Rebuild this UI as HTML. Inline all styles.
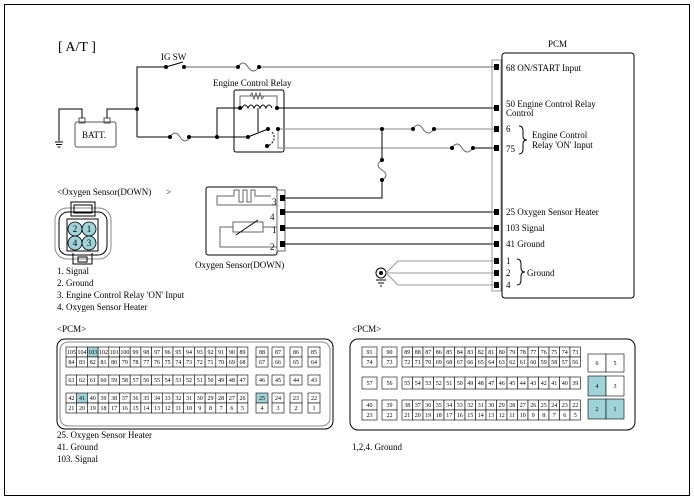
<!DOCTYPE html>
<html><head><meta charset="utf-8"><style>
body{margin:0;background:#fff}
svg{display:block}
text{font-family:"Liberation Serif",serif;font-size:9px;fill:#000}
</style></head><body>
<svg width="694" height="500" viewBox="0 0 694 500" xmlns="http://www.w3.org/2000/svg">
<rect x="4.5" y="4.5" width="685" height="491" fill="none" stroke="#000" stroke-width="1"/>
<text x="58" y="51" style="font-size:14px">[ A/T ]</text>
<text x="161" y="60">IG SW</text>
<text x="213" y="86">Engine Control Relay</text>
<text x="548" y="47">PCM</text>
<g fill="none" stroke="#000" stroke-width="1">
<polyline points="137,137 137,67 166,67"/>
<line x1="166" y1="67" x2="183" y2="62"/>
<line x1="184" y1="67" x2="238" y2="67" stroke="#666"/>
<path d="M238,67 q5,-8 10,0 q5,8 11,0" stroke="#666"/>
<line x1="259" y1="67" x2="497" y2="67" stroke="#666"/>
<rect x="75" y="122" width="41" height="25" rx="2" stroke="#555"/>
<rect x="79" y="118" width="6" height="5" stroke="#555"/>
<rect x="104" y="118" width="6" height="5" stroke="#555"/>
<polyline points="82,118 82,109 59,109 59,141"/>
<polyline points="107,118 107,109 137,109"/>
<line x1="55" y1="142" x2="63" y2="142"/><line x1="56" y1="144.5" x2="62" y2="144.5"/><line x1="57.5" y1="147" x2="60.5" y2="147"/>
<line x1="137" y1="137" x2="170" y2="137"/>
<path d="M170,137 q5,-8 10,0 q5,8 10,0" stroke="#666"/>
<line x1="189" y1="137" x2="248" y2="137"/>
<polyline points="217,137 217,108 240,108"/>
<rect x="234" y="90" width="50" height="62" rx="2"/>
<polyline points="240,108 240,96 277,96 277,108" stroke="#666"/>
<path d="M250,96 l2,-3 l2,6 l2,-6 l2,6 l2,-6 l2,6 l2,-3" stroke="#666"/>
<path d="M242,108 q3,-6 6,0 q3,-6 6,0 q3,-6 6,0 q3,-6 6,0 q3,-6 6,0" />
<line x1="258" y1="108" x2="258" y2="132"/>
<line x1="248" y1="137" x2="268" y2="129"/>
<path d="M272,132 q6,8 -4,14" stroke-dasharray="2,1.5"/>
<line x1="277" y1="108" x2="497" y2="108"/>
<line x1="278" y1="129" x2="413" y2="129" stroke="#888"/>
<polyline points="278,129 278,148 452,148" stroke="#888"/>
<path d="M413,129 q5,-8 10,0 q5,8 11,0" stroke="#666"/>
<line x1="434" y1="129" x2="497" y2="129" stroke="#888"/>
<path d="M452,148 q5,-8 10,0 q5,8 11,0" stroke="#666"/>
<line x1="473" y1="148" x2="497" y2="148"/>
<line x1="382" y1="129" x2="382" y2="160"/>
<path d="M382,160 q-8,5 0,10 q8,5 0,10" stroke="#666"/>
<polyline points="382,180 382,198 285,198"/>
<rect x="206" y="187" width="71" height="68" rx="2"/>
<rect x="277" y="190" width="8" height="61" stroke="#666"/>
<polyline points="217,205 217,196 234,196 234,190 239,190 239,202 243,202 243,190 247,190 247,202 251,202 251,190 255,190 255,196 271,196" stroke="#666"/>
<line x1="217" y1="205" x2="277" y2="205" stroke="#666"/>
<rect x="233" y="222" width="30" height="10" stroke="#666"/>
<line x1="236" y1="235" x2="258" y2="220"/>
<polyline points="263,227 277,227" stroke="#666"/>
<polyline points="233,227 220,227 220,247 277,247" stroke="#666"/>
<line x1="285" y1="212" x2="497" y2="212"/>
<line x1="285" y1="228" x2="497" y2="228"/>
<line x1="285" y1="244" x2="497" y2="244"/>
<circle cx="381" cy="273" r="5"/>
<line x1="386" y1="273" x2="497" y2="273" stroke="#999"/>
<line x1="386" y1="273" x2="398" y2="261" stroke="#999"/><line x1="398" y1="261" x2="497" y2="261" stroke="#999"/>
<line x1="386" y1="273" x2="398" y2="285" stroke="#999"/><line x1="398" y1="285" x2="497" y2="285" stroke="#999"/>
<line x1="376" y1="280" x2="386" y2="280"/><line x1="378" y1="283" x2="384" y2="283"/><line x1="380" y1="286" x2="382" y2="286"/>
<rect x="502" y="53" width="132" height="245" rx="3"/>
<rect x="492" y="60" width="9" height="231" stroke="#999"/>
<path d="M519,126 q4,0 4,5 v5 q0,4 4,4 q-4,0 -4,4 v5 q0,5 -4,5"/>
<path d="M517,259 q4,0 4,5 v4 q0,4 4,4 q-4,0 -4,4 v4 q0,5 -4,5"/>
<rect x="55" y="208" width="56" height="51" rx="12" stroke="#888"/>
<rect x="59" y="212" width="48" height="43" rx="9"/>
<rect x="67" y="219" width="31" height="32" fill="#fff"/>
<rect x="71" y="202" width="24" height="14"/>
<rect x="74" y="205" width="18" height="8"/>
<polyline points="73,253 73,264 92,264 92,253"/>
<rect x="78" y="257" width="9" height="5"/>
</g>
<g fill="#9fd3d8" stroke="#000" stroke-width="0.8">
<circle cx="75" cy="229" r="7"/><circle cx="89" cy="229" r="7"/><circle cx="75" cy="243" r="7"/><circle cx="89" cy="243" r="7"/>
</g>
<g style="font-size:8px" text-anchor="middle">
<text x="75" y="232">2</text><text x="89" y="232">1</text><text x="75" y="246">4</text><text x="89" y="246">3</text>
</g>
<g fill="#000">
<circle cx="166" cy="67" r="2"/><circle cx="184" cy="67" r="2"/><circle cx="238" cy="67" r="2"/><circle cx="259" cy="67" r="2"/>
<circle cx="137" cy="109" r="2"/><circle cx="170" cy="137" r="2"/><circle cx="189" cy="137" r="2"/><circle cx="217" cy="137" r="2"/>
<circle cx="240" cy="108" r="2"/><circle cx="277" cy="108" r="2"/><circle cx="248" cy="137" r="2"/><circle cx="268" cy="129" r="2"/><circle cx="278" cy="129" r="2"/><circle cx="267" cy="146" r="2"/>
<circle cx="382" cy="129" r="2"/><circle cx="413" cy="129" r="2"/><circle cx="434" cy="129" r="2"/><circle cx="452" cy="148" r="2"/><circle cx="473" cy="148" r="2"/>
<circle cx="382" cy="160" r="2"/><circle cx="382" cy="180" r="2"/>
<circle cx="381" cy="273" r="2"/>
<rect x="494" y="64" width="5" height="6"/><rect x="494" y="105" width="5" height="6"/><rect x="494" y="126" width="5" height="6"/><rect x="494" y="145" width="5" height="6"/>
<rect x="494" y="209" width="5" height="6"/><rect x="494" y="225" width="5" height="6"/><rect x="494" y="241" width="5" height="6"/>
<rect x="494" y="258" width="5" height="6"/><rect x="494" y="270" width="5" height="6"/><rect x="494" y="282" width="5" height="6"/>
<rect x="280" y="195" width="5" height="6"/><rect x="280" y="209" width="5" height="6"/><rect x="280" y="225" width="5" height="6"/><rect x="280" y="241" width="5" height="6"/>
</g>
<text x="82" y="138">BATT.</text>
<text x="272" y="205">3</text><text x="270" y="220">4</text><text x="272" y="233">1</text><text x="270" y="250">2</text>
<text x="506" y="71">68  ON/START Input</text>
<text x="506" y="107">50 Engine Control Relay</text><text x="506" y="116">Control</text>
<text x="506" y="132">6</text><text x="506" y="152">75</text>
<text x="532" y="138">Engine Control</text><text x="532" y="148">Relay 'ON' Input</text>
<text x="506" y="215">25 Oxygen Sensor Heater</text>
<text x="506" y="231">103 Signal</text>
<text x="506" y="247">41 Ground</text>
<text x="506" y="264">1</text><text x="506" y="276">2</text><text x="506" y="288">4</text>
<text x="527" y="276">Ground</text>
<text x="195" y="268">Oxygen Sensor(DOWN)</text>
<text x="57" y="195">&lt;Oxygen Sensor(DOWN)</text><text x="166" y="195">&gt;</text>
<text x="57" y="274">1. Signal</text>
<text x="57" y="286">2. Ground</text>
<text x="57" y="298">3.  Engine Control Relay 'ON' Input</text>
<text x="57" y="310">4. Oxygen Sensor Heater</text>
<text x="57" y="332">&lt;PCM&gt;</text>
<text x="352" y="332">&lt;PCM&gt;</text>
<text x="57" y="438">25. Oxygen Sensor Heater</text>
<text x="57" y="450">41. Ground</text>
<text x="57" y="462">103. Signal</text>
<text x="352" y="450">1,2,4. Ground</text>
</svg>
<script>
(function(){
var NS="http://www.w3.org/2000/svg",svg=document.querySelector('svg');
function R(x,y,w,h,fill,sw){var r=document.createElementNS(NS,'rect');r.setAttribute('x',x);r.setAttribute('y',y);r.setAttribute('width',w);r.setAttribute('height',h);r.setAttribute('fill',fill||'#fff');r.setAttribute('stroke','#000');r.setAttribute('stroke-width',sw||0.6);svg.appendChild(r);}
function T(x,y,s){var t=document.createElementNS(NS,'text');t.setAttribute('x',x);t.setAttribute('y',y);t.setAttribute('text-anchor','middle');t.setAttribute('style','font-size:6px');t.textContent=s;svg.appendChild(t);}
function cell(x,y,w,h,s,hl){R(x,y,w,h,hl?'#9fd3d8':'#fff');T(x+w/2,y+h/2+2,s);}
var b=document.createElementNS(NS,'rect');b.setAttribute('x',57);b.setAttribute('y',339);b.setAttribute('width',276);b.setAttribute('height',90);b.setAttribute('rx',8);b.setAttribute('fill','none');b.setAttribute('stroke','#000');svg.appendChild(b);
var b2=b.cloneNode();b2.setAttribute('x',60);b2.setAttribute('y',342);b2.setAttribute('width',270);b2.setAttribute('height',84);b2.setAttribute('stroke','#888');svg.appendChild(b2);
var w=10.7,i;
for(i=0;i<17;i++){cell(66+i*w,347,w,10,105-i,105-i==103);cell(66+i*w,357,w,10,84-i);}
for(i=0;i<17;i++){cell(66+i*w,375,w,10,63-i);}
for(i=0;i<17;i++){cell(66+i*w,393,w,10,42-i,42-i==41);cell(66+i*w,403,w,10,21-i);}
var cx=[256,272,290,308];
for(i=0;i<4;i++){cell(cx[i],347,12,10,88-i);cell(cx[i],357,12,10,67-i);cell(cx[i],375,12,10,46-i);cell(cx[i],393,12,10,25-i,i==0);cell(cx[i],403,12,10,4-i);}
var c=b.cloneNode();c.setAttribute('x',350);c.setAttribute('y',339);c.setAttribute('width',285);c.setAttribute('height',91);svg.appendChild(c);
cell(362,347,15,10,91);cell(362,357,15,10,74);cell(382,347,15,10,90);cell(382,357,15,10,73);
cell(362,377,15,12,57);cell(382,377,15,12,56);
cell(362,400,15,10,40);cell(362,410,15,10,23);cell(382,400,15,10,39);cell(382,410,15,10,22);
w=10.5;
for(i=0;i<17;i++){cell(402+i*w,347,w,10,89-i);cell(402+i*w,357,w,10,72-i);cell(402+i*w,377,w,12,55-i);cell(402+i*w,400,w,10,38-i);cell(402+i*w,410,w,10,21-i);}
cell(588,354,18,18,6);cell(606,354,18,18,5);
cell(588,376,18,20,4,1);cell(606,376,18,20,3);
cell(588,399,18,20,2,1);cell(606,399,18,20,1,1);
})();
</script>
</body></html>
